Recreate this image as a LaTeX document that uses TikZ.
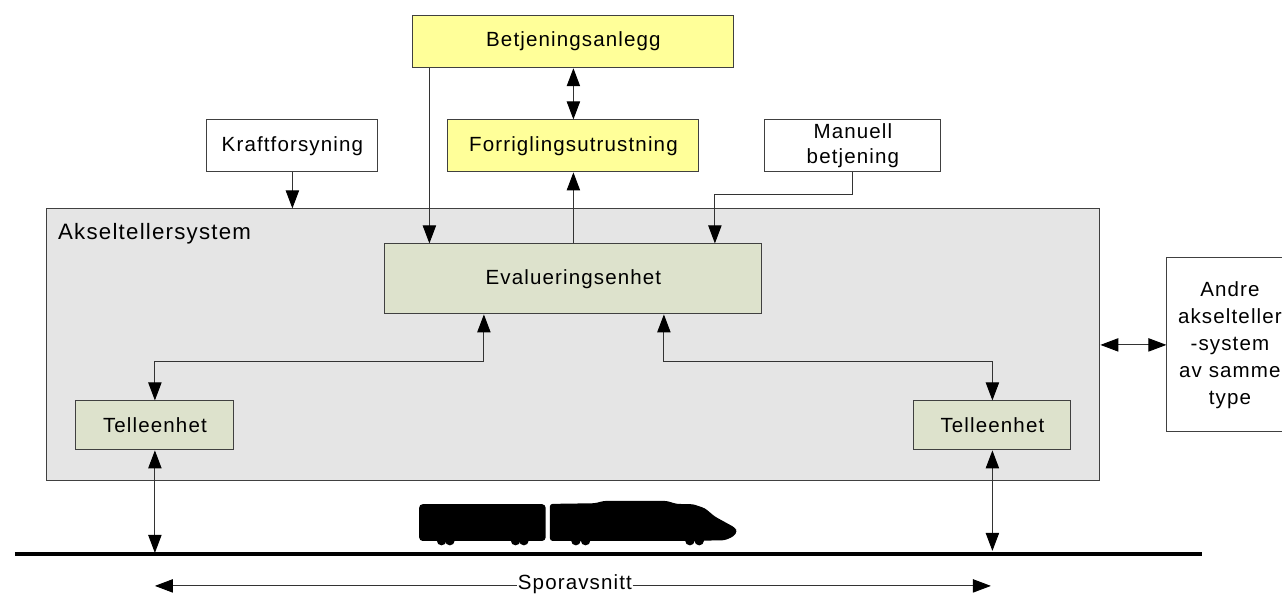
\documentclass[tikz,border=0pt]{standalone}
\usepackage{fontspec}
\setmainfont[LetterSpace=5.5]{Liberation Sans}
\usetikzlibrary{arrows.meta,calc}
\definecolor{ylw}{HTML}{FFFF99}
\definecolor{sage}{HTML}{DDE2CC}
\definecolor{sysgray}{HTML}{E5E5E5}
\definecolor{edge}{HTML}{404040}
\tikzset{
  bx/.style={draw=edge,line width=0.75pt,inner sep=0pt,align=center,font=\fontsize{15.4pt}{19pt}\selectfont},
  wh/.style={bx,fill=white},
  yl/.style={bx,fill=ylw},
  sg/.style={bx,fill=sage},
  conn/.style={line width=0.7pt,draw=black!80},
  one/.style={conn,-{Triangle[length=13.5pt,width=10pt,color=black]}},
  both/.style={conn,{Triangle[length=13.5pt,width=10pt,color=black]}-{Triangle[length=13.5pt,width=10pt,color=black]}},
  lefttip/.style={conn,{Triangle[length=13.5pt,width=10pt,color=black]}-},
}
\begin{document}
\begin{tikzpicture}[x=0.75pt,y=-0.75pt]
\useasboundingbox (0.1,0.1) rectangle (1282.1,594.1);
% containers and boxes
\node[bx,fill=sysgray,minimum width=789.75pt,minimum height=204pt] (sys) at (573.5,345) {};
\node[font=\fontsize{16.7pt}{19pt}\selectfont,anchor=west,inner sep=0pt] (systxt) at (58,233.5) {Akseltellersystem};
\node[yl,minimum width=240.75pt,minimum height=39.5pt] (bet) at (573.5,41.5) {Betjeningsanlegg};
\node[yl,minimum width=188.25pt,minimum height=39pt] (forr) at (573.5,146) {Forriglingsutrustning};
\node[wh,minimum width=128.25pt,minimum height=39pt] (kraft) at (292.5,146) {Kraftforsyning};
\node[wh,minimum width=132pt,minimum height=39pt] (man) at (853,146) {Manuell\\betjening};
\node[sg,minimum width=282.75pt,minimum height=52.5pt] (eval) at (573.5,279) {Evalueringsenhet};
\node[sg,minimum width=118.5pt,minimum height=36.75pt] (tl) at (155,425.5) {Telleenhet};
\node[sg,minimum width=117.75pt,minimum height=36.75pt] (tr) at (992.5,425.5) {Telleenhet};
\node[wh,minimum width=94.5pt,minimum height=130.5pt,font=\fontsize{15.4pt}{20.2pt}\selectfont] (andre) at (1230,345) {Andre\\akselteller\\-system\\av samme\\type};
% track
\coordinate (trackl) at (15,554);
\coordinate (trackr) at (1202,554);
\draw[line width=2.4pt] (trackl) -- (trackr);
% train
\begin{scope}[shift={(400,490)},x=0.25pt,y=-0.25pt]
\fill[rounded corners=2.5pt] (58,153) -- (58,43) -- (437,43) -- (437,153) -- cycle;
\fill[rounded corners=2pt] (450,153) -- (450,42) -- (585,40) -- (612,33) -- (800,33) -- (830,42) -- (880,43) -- (915,55) -- (945,80) -- (1005,113) -- (1012,125) -- (1000,140) -- (975,151) -- (870,153) -- cycle;
\foreach \wx in {125,150,347,372,528,557,870,898}
  \fill (\wx,152) circle[radius=3.6pt];
\end{scope}
% connectors
\draw[one] (kraft.south) -- (kraft.south |- sys.north);
\coordinate (b1) at ($(bet.south west)+(17,0)$);
\draw[one] (b1) -- (b1 |- eval.north);
\draw[both] (bet.south) -- (forr.north);
\draw[one] (eval.north) -- (forr.south);
\coordinate (m1) at (715,195);
\draw[one] (man.south) |- (m1) -- (m1 |- eval.north);
\coordinate (e1) at ($(eval.south)+(-89.5,0)$);
\coordinate (e2) at ($(eval.south)+(90.5,0)$);
\coordinate (midy) at (573.5,362);
\draw[both] (tl.north) -- (tl.north |- midy) -- (e1 |- midy) -- (e1);
\draw[both] (tr.north) -- (tr.north |- midy) -- (e2 |- midy) -- (e2);
\coordinate (t1) at (tl.south |- trackl);
\coordinate (t2) at ($(tr.south |- trackl)+(0,-3)$);
\draw[both] (tl.south) -- ($(t1)+(0,-1)$);
\draw[both] (tr.south) -- (t2);
\coordinate (s1) at (sys.east |- andre.west);
\draw[both] (s1) -- (andre.west);
% section span
\coordinate (spl) at (155,586);
\coordinate (spr) at (991,586);
\node[fill=white,inner sep=0.3pt,font=\fontsize{15.4pt}{19pt}\selectfont] (sp) at (575,584.5) {Sporavsnitt};
\draw[lefttip] (spl) -- (spl -| sp.west);
\draw[one] (spr -| sp.east) -- (spr);
\end{tikzpicture}
\end{document}
